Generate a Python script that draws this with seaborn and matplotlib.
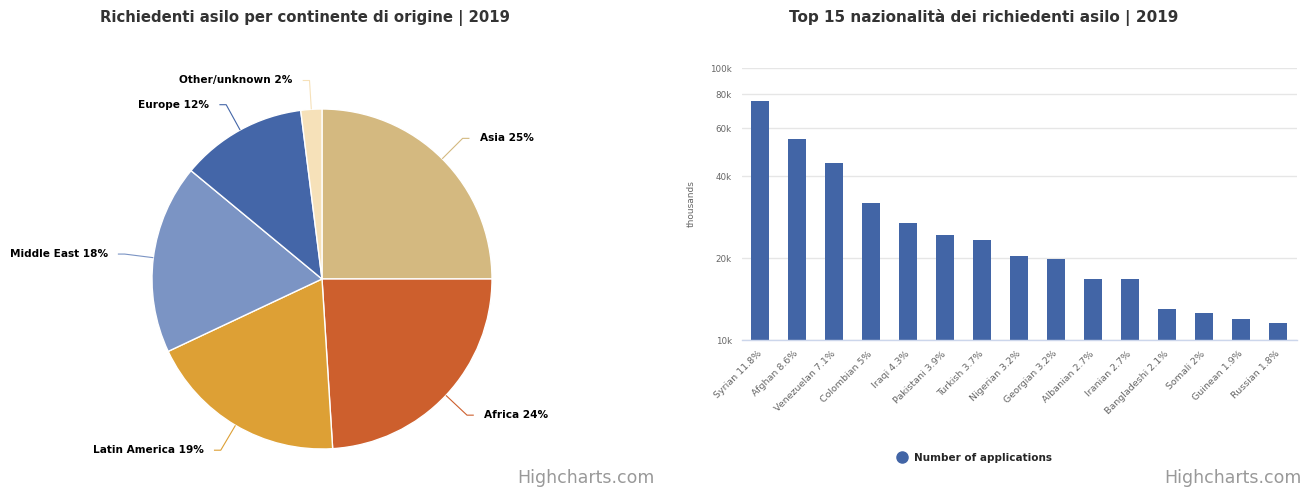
import matplotlib
matplotlib.use("Agg")
import matplotlib.pyplot as plt
from matplotlib.lines import Line2D
from matplotlib.ticker import NullLocator
import numpy as np
import pandas as pd
import seaborn as sns

# --- data -------------------------------------------------------------
continents = ["Asia", "Africa", "Latin America", "Middle East", "Europe", "Other/unknown"]
continent_pct = [25, 24, 19, 18, 12, 2]
continent_colors = ["#d4b980", "#cd5f2d", "#dda035", "#7b94c4", "#4466a8", "#f6e1b9"]

nationalities = ["Syrian", "Afghan", "Venezuelan", "Colombian", "Iraqi", "Pakistani",
                 "Turkish", "Nigerian", "Georgian", "Albanian", "Iranian",
                 "Bangladeshi", "Somali", "Guinean", "Russian"]
nationality_share = ["11.8%", "8.6%", "7.1%", "5%", "4.3%", "3.9%", "3.7%", "3.2%",
                     "3.2%", "2.7%", "2.7%", "2.1%", "2%", "1.9%", "1.8%"]
applications = [75500, 54800, 44800, 31900, 26900, 24300, 23300, 20400,
                19900, 16800, 16800, 13000, 12600, 11900, 11500]
ytick_values = [10000, 20000, 40000, 60000, 80000, 100000]
ytick_labels = ["10k", "20k", "40k", "60k", "80k", "100k"]

bar_color = "#4265a6"
title_left = "Richiedenti asilo per continente di origine | 2019"
title_right = "Top 15 nazionalità dei richiedenti asilo | 2019"
legend_label = "Number of applications"
credit = "Highcharts.com"

# --- style ------------------------------------------------------------
sns.set_theme(style="white")
plt.rcParams["font.family"] = ["DejaVu Sans"]

W, H = 1310, 487
fig = plt.figure(figsize=(W / 100, H / 100), dpi=100)
fig.patch.set_facecolor("white")

# --- pie: continents of origin ---------------------------------------
cx, cy, r = 322, 279, 170
ax_pie = fig.add_axes([(cx - r) / W, (H - cy - r) / H, 2 * r / W, 2 * r / H])
ax_pie.pie(continent_pct, colors=continent_colors, startangle=90, counterclock=False,
           radius=1, wedgeprops=dict(edgecolor="white", linewidth=1))
ax_pie.set_xlim(-1, 1)
ax_pie.set_ylim(-1, 1)
ax_pie.set_axis_off()

starts = np.cumsum([0] + continent_pct[:-1])
mids = (starts + np.array(continent_pct) / 2) / 100 * 2 * np.pi
for name, pct, col, th in zip(continents, continent_pct, continent_colors, mids):
    dx, dy = np.sin(th), np.cos(th)
    side = 1 if dx >= 0 else -1
    x1, y1 = dx * 1.17, dy * 1.17
    x2 = x1 + side * 0.04
    ax_pie.plot([dx * 1.0, x1, x2], [dy * 1.0, y1, y1], color=col, lw=0.8,
                clip_on=False, solid_capstyle="butt")
    ax_pie.text(x2 + side * 0.06, y1, f"{name} {pct}%",
                ha="left" if side > 0 else "right", va="center",
                fontsize=7.6, fontweight="bold", color="black")

# --- bars: top 15 nationalities (log value axis) ----------------------
ax_bar = fig.add_axes([741.5 / W, (H - 340) / H, 555 / W, 272 / H])
df = pd.DataFrame({
    "label": [f"{n} {s}" for n, s in zip(nationalities, nationality_share)],
    "applications": applications,
})
sns.barplot(data=df, x="label", y="applications", color=bar_color, saturation=1,
            width=0.49, linewidth=0, ax=ax_bar)
ax_bar.set_yscale("log", nonpositive="clip")
ax_bar.set_ylim(ytick_values[0], ytick_values[-1])
ax_bar.set_yticks(ytick_values)
ax_bar.set_yticklabels(ytick_labels)
ax_bar.yaxis.set_minor_locator(NullLocator())
ax_bar.yaxis.grid(True, color="#e6e6e6", linewidth=1)
ax_bar.set_axisbelow(True)
ax_bar.set_xlim(-0.5, len(applications) - 0.5)

ax_bar.set_xticks(range(len(df)))
ax_bar.set_xticklabels(df["label"], rotation=45, ha="right", va="center",
                       rotation_mode="anchor", fontsize=6.8, color="#666666")
ax_bar.tick_params(axis="x", length=0, pad=9)
ax_bar.tick_params(axis="y", length=0, pad=7, labelsize=6.3, labelcolor="#666666")
ax_bar.set_xlabel("")
ax_bar.set_ylabel("thousands", fontsize=6.5, color="#666666", labelpad=10)
for s in ("left", "right", "top"):
    ax_bar.spines[s].set_visible(False)
ax_bar.spines["bottom"].set_color("#ccd6eb")
ax_bar.spines["bottom"].set_linewidth(1)

handle = Line2D([0], [0], marker="o", linestyle="", markersize=8,
                markerfacecolor=bar_color, markeredgecolor=bar_color)
fig.legend(handles=[handle], labels=[legend_label], loc="center",
           bbox_to_anchor=(972 / W, 1 - 458 / H), frameon=False,
           prop={"weight": "bold", "size": 7.5}, handletextpad=0.2)

# --- titles and credits -----------------------------------------------
fig.text(305 / W, 1 - 18 / H, title_left, ha="center", va="center",
         fontsize=10.7, fontweight="bold", color="#333333")
fig.text(984 / W, 1 - 18 / H, title_right, ha="center", va="center",
         fontsize=11, fontweight="bold", color="#333333")
fig.text(655 / W, 1 - 478 / H, credit, ha="right", va="center",
         fontsize=12.5, color="#999999")
fig.text(1302 / W, 1 - 478 / H, credit, ha="right", va="center",
         fontsize=12.5, color="#999999")

fig.savefig("out.png", dpi=100)
